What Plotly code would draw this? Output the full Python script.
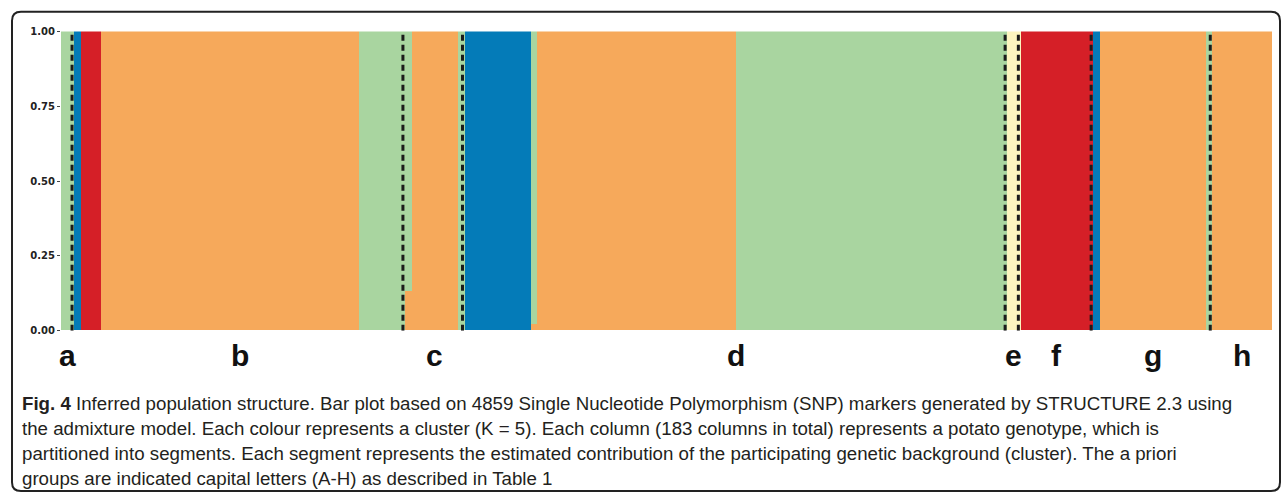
import numpy as np
import plotly.graph_objects as go

W, H = 1287, 501

# STRUCTURE (K = 5) membership, stored as runs of consecutive genotypes
run_len  = [2, 1, 3, 39, 7, 1, 7, 1, 10, 1, 30, 41, 2, 11, 1, 16, 1, 9]
q_orange = [0, 0, 0, 1, 0, 0.13, 1, 0, 0, 0.02, 1, 0, 0, 0, 0, 1, 0, 1]
q_green  = [1, 0, 0, 0, 1, 0.87, 0, 1, 0, 0.98, 0, 1, 0, 0, 0, 0, 1, 0]
q_blue   = [0, 1, 0, 0, 0, 0, 0, 0, 1, 0, 0, 0, 0, 0, 1, 0, 0, 0]
q_red    = [0, 0, 1, 0, 0, 0, 0, 0, 0, 0, 0, 0, 0, 1, 0, 0, 0, 0]
q_yellow = [0, 0, 0, 0, 0, 0, 0, 0, 0, 0, 0, 0, 1, 0, 0, 0, 0, 0]

# a priori groups (number of genotypes in each)
group_labels = ["a", "b", "c", "d", "e", "f", "g", "h"]
group_sizes = [2, 50, 9, 82, 2, 11, 18, 9]

y_tickvals = [0, 0.25, 0.5, 0.75, 1.0]
y_ticktext = ["0.00", "0.25", "0.50", "0.75", "1.00"]

caption_lines = [
    "<b>Fig. 4</b> Inferred population structure. Bar plot based on 4859 Single Nucleotide Polymorphism (SNP) markers generated by STRUCTURE 2.3 using",
    "the admixture model. Each colour represents a cluster (K = 5). Each column (183 columns in total) represents a potato genotype, which is",
    "partitioned into segments. Each segment represents the estimated contribution of the participating genetic background (cluster). The a priori",
    "groups are indicated capital letters (A-H) as described in Table 1",
]

clusters = [
    ("Cluster 1", q_orange, "#F6A95B"),
    ("Cluster 2", q_green, "#A9D5A0"),
    ("Cluster 3", q_blue, "#047BB8"),
    ("Cluster 4", q_red, "#D51F27"),
    ("Cluster 5", q_yellow, "#FDF5BF"),
]

n_geno = int(sum(run_len))
geno_idx = np.arange(n_geno)

fig = go.Figure()
for name, q, colour in clusters:
    fig.add_trace(go.Bar(
        x=geno_idx,
        y=np.repeat(q, run_len),
        name=name,
        marker=dict(color=colour, line=dict(width=0)),
        width=1.0,
        showlegend=False,
    ))

# group separators and group letters
edges = np.concatenate([[0], np.cumsum(group_sizes)])
shapes = []
for b in edges[1:-1]:
    xb = b - 0.5 - 0.33
    shapes.append(dict(type="line", xref="x", yref="y", x0=xb, x1=xb, y0=0, y1=1,
                       line=dict(color="#1b1b1b", width=3, dash="6px,4px")))

annotations = []
for lab, lo, hi in zip(group_labels, edges[:-1], edges[1:]):
    annotations.append(dict(x=(lo + hi - 1) / 2, xref="x", y=1 - 358 / H, yref="paper",
                            text="<b>%s</b>" % lab, showarrow=False,
                            font=dict(family="Liberation Sans, Arial", size=30, color="#111"),
                            xanchor="center", yanchor="middle"))

# caption text
cap_y = [407, 433, 459, 484]
for line, py in zip(caption_lines, cap_y):
    annotations.append(dict(x=20 / W, xref="paper", y=1 - py / H, yref="paper",
                            text=line, showarrow=False, align="left",
                            font=dict(family="Liberation Sans, Arial",
                                      size=18.7, color="#231f20"),
                            xanchor="left", yanchor="middle"))

# rounded frame around the figure
def px(x):
    return x / W

def py_(y):
    return 1 - y / H

x0f, x1f, y0f, y1f, r = 12, 1280, 7, 497, 9
frame_path = (
    f"M {px(x0f + r)},{py_(y0f)} L {px(x1f - r)},{py_(y0f)} "
    f"Q {px(x1f)},{py_(y0f)} {px(x1f)},{py_(y0f + r)} "
    f"L {px(x1f)},{py_(y1f - r)} Q {px(x1f)},{py_(y1f)} {px(x1f - r)},{py_(y1f)} "
    f"L {px(x0f + r)},{py_(y1f)} Q {px(x0f)},{py_(y1f)} {px(x0f)},{py_(y1f - r)} "
    f"L {px(x0f)},{py_(y0f + r)} Q {px(x0f)},{py_(y0f)} {px(x0f + r)},{py_(y0f)} Z"
)
shapes.append(dict(type="path", xref="paper", yref="paper", path=frame_path,
                   line=dict(color="#222", width=2), fillcolor="rgba(0,0,0,0)"))

fig.update_layout(
    width=W, height=H,
    margin=dict(l=0, r=0, t=0, b=0),
    paper_bgcolor="white", plot_bgcolor="white",
    barmode="stack", bargap=0,
    shapes=shapes, annotations=annotations,
    xaxis=dict(domain=[61 / W, 1272 / W], range=[-0.5, n_geno - 0.5],
               showticklabels=False, ticks="", showgrid=False, zeroline=False,
               showline=False, fixedrange=True),
    yaxis=dict(domain=[1 - 333 / H, 1 - 27 / H], range=[0, 1],
               tickvals=y_tickvals, ticktext=y_ticktext,
               ticks="outside", ticklen=3, tickwidth=1, tickcolor="#444",
               tickfont=dict(family="DejaVu Sans", size=10, color="#222", weight="bold"),
               showgrid=False, zeroline=False, showline=False, fixedrange=True),
)

fig.write_html("out.html")
